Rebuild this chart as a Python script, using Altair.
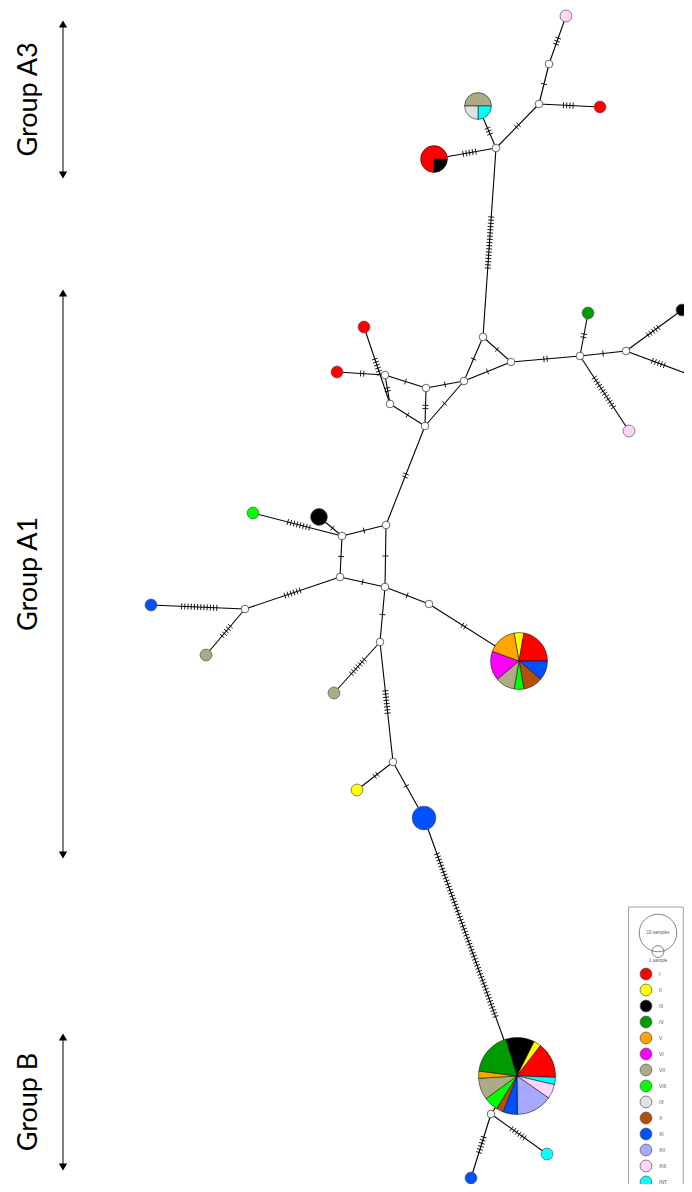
import math
import altair as alt
import pandas as pd

# ---------------- data ----------------
hap_names = ["I", "II", "III", "IV", "V", "VI", "VII", "VIII", "IX", "X", "XI", "XII", "XIII", "INT"]
hap_colors = ["#FF0000", "#FFFF00", "#000000", "#009B00", "#FFA500", "#FF00FF", "#ADAB85",
              "#00FF00", "#E0E0E0", "#B4500A", "#0050FF", "#A8A8FF", "#FFD6F7", "#00FFFF"]

# single-haplotype nodes
node_id = ["A3pink", "A3red", "A1redT", "A1redL", "A1green", "A1black", "A1oliveR", "A1pink",
           "A1lime", "A1black2", "A1blue", "A1olive1", "A1olive2", "A1yellow", "A1blueXI",
           "Bblue", "Bcyan"]
node_x = [566, 600, 364, 337, 588, 682, 693, 629, 253, 319, 151, 206, 334, 357, 424, 471, 547]
node_y = [16, 107, 327, 372, 313, 310, 376, 431, 513, 517, 605, 655, 693, 790, 818, 1178, 1154]
node_hap = ["XIII", "I", "I", "I", "IV", "III", "VII", "XIII", "VIII", "III", "XI", "VII", "VII",
            "II", "XI", "XI", "INT"]
node_n = [1, 1, 1, 1, 1, 1, 1, 1, 1, 2, 1, 1, 1, 1, 4, 1, 1]

# mixed-haplotype nodes (pies)
pie_id = ["A3mix", "A3redblk", "A1pie", "Bpie"]
pie_x = [478, 434, 519, 517]
pie_y = [106, 159, 661, 1076]
pie_haps = [["VII", "INT", "IX"],
            ["III", "I"],
            ["II", "I", "XI", "X", "VIII", "VII", "VI", "V"],
            ["III", "II", "I", "INT", "XIII", "XII", "XI", "X", "VIII", "VII", "V", "IV"]]
pie_counts = [[2, 1, 1],
              [1, 3],
              [1, 4, 2, 2, 1, 2, 3, 3],
              [4, 1, 5, 1, 2, 5, 2, 1, 2, 3, 1, 6]]

# median vectors (unsampled)
mv_id = ["w1", "w2", "w3", "a", "b", "c", "d", "e", "f", "g", "h", "i",
         "j", "k", "l", "m", "n", "o", "p", "q", "wB"]
mv_x = [549, 539, 496, 385, 390, 426, 425, 464, 483, 511, 580, 626,
        342, 386, 340, 385, 429, 245, 380, 393, 491]
mv_y = [64, 104, 148, 375, 404, 388, 426, 381, 337, 362, 356, 351,
        536, 525, 577, 587, 604, 609, 642, 762, 1114]

# edges with number of mutations
edge_a = ["A3pink", "w1", "w2", "w2", "w3", "w3", "w3",
          "A1redT", "a", "A1redL", "a", "b", "c", "c", "d", "e", "e", "f", "g",
          "h", "h", "i", "i", "h", "d",
          "k", "j", "j", "j", "k", "l", "l", "o", "o", "m", "n", "m", "p", "p",
          "q", "q", "A1blueXI", "Bpie", "wB", "wB"]
edge_b = ["w1", "w2", "A3red", "w3", "A3mix", "A3redblk", "f",
          "b", "b", "a", "c", "d", "d", "e", "e", "f", "g", "g", "h",
          "A1green", "i", "A1black", "A1oliveR", "A1pink", "k",
          "j", "A1black2", "A1lime", "l", "m", "m", "o", "A1blue", "A1olive1", "n", "A1pie", "p",
          "A1olive2", "q", "A1yellow", "A1blueXI", "Bpie", "wB", "Bblue", "Bcyan"]
edge_mut = [3, 1, 4, 2, 3, 5, 17,
            6, 2, 2, 1, 1, 2, 1, 1, 1, 1, 1, 2,
            2, 1, 5, 5, 12, 2,
            1, 1, 8, 1, 1, 1, 6, 12, 5, 1, 2, 1,
            7, 8, 2, 1, 55, 0, 6, 6]

# group annotations
group_names = ["Group A3", "Group A1", "Group B"]
group_top = [19, 288, 1032]
group_bottom = [180, 860, 1172]

# ---------------- derived tables ----------------
R1 = 6.7          # radius of a one-sample node
MV_R = 4.3
pos = {}
rad = {}
for i_, x_, y_, n_ in zip(node_id, node_x, node_y, node_n):
    pos[i_] = (x_, y_); rad[i_] = R1 * math.sqrt(n_)
for i_, x_, y_, c_ in zip(pie_id, pie_x, pie_y, pie_counts):
    pos[i_] = (x_, y_); rad[i_] = R1 * math.sqrt(sum(c_))
for i_, x_, y_ in zip(mv_id, mv_x, mv_y):
    pos[i_] = (x_, y_); rad[i_] = MV_R

edges = pd.DataFrame({
    "x": [pos[a][0] for a in edge_a], "y": [pos[a][1] for a in edge_a],
    "x2": [pos[b][0] for b in edge_b], "y2": [pos[b][1] for b in edge_b],
})

GAP, HALF = 3.2, 3.0
tick_rows = []
for a, b, m in zip(edge_a, edge_b, edge_mut):
    (x1, y1), (x2, y2) = pos[a], pos[b]
    L = math.hypot(x2 - x1, y2 - y1)
    ux, uy = (x2 - x1) / L, (y2 - y1) / L
    px, py = -uy, ux
    mid = (rad[a] + L - rad[b]) / 2
    for k in range(m):
        s = mid + (k - (m - 1) / 2) * GAP
        cx, cy = x1 + ux * s, y1 + uy * s
        tick_rows.append({"x": cx - px * HALF, "y": cy - py * HALF,
                          "x2": cx + px * HALF, "y2": cy + py * HALF})
ticks = pd.DataFrame(tick_rows)

nodes = pd.DataFrame({"x": node_x, "y": node_y, "hap": node_hap, "n": node_n})
mvs = pd.DataFrame({"x": mv_x, "y": mv_y})

# ---------------- scales ----------------
xs = alt.Scale(domain=[8, 684], nice=False, zero=False)
ys = alt.Scale(domain=[8, 1184], nice=False, zero=False, reverse=True)
cs = alt.Scale(domain=hap_names, range=hap_colors)
ss = alt.Scale(type="linear", domain=[0, 40], range=[0, 40 * math.pi * R1 * R1], zero=True)
rs = alt.Scale(type="sqrt", domain=[0, 40], range=[0, R1 * math.sqrt(40)], zero=True)


def X(f="x"):
    return alt.X(f"{f}:Q", scale=xs, axis=None)


def Y(f="y"):
    return alt.Y(f"{f}:Q", scale=ys, axis=None)


layers = []
layers.append(alt.Chart(edges).mark_rule(color="black", strokeWidth=1.1).encode(
    x=X(), y=Y(), x2="x2:Q", y2="y2:Q"))
layers.append(alt.Chart(ticks).mark_rule(color="black", strokeWidth=0.9).encode(
    x=X(), y=Y(), x2="x2:Q", y2="y2:Q"))
layers.append(alt.Chart(mvs).mark_circle(size=math.pi * MV_R ** 2, color="white", opacity=1,
                                         stroke="#444444", strokeWidth=0.8).encode(x=X(), y=Y()))
layers.append(alt.Chart(nodes).mark_circle(opacity=1, stroke="#555555", strokeWidth=0.7).encode(
    x=X(), y=Y(),
    color=alt.Color("hap:N", scale=cs, legend=None),
    size=alt.Size("n:Q", scale=ss, legend=None)))

pie_start_deg = [-90, 90, -10, -17]
pie_layers = []
for pid, px_, py_, hp, ct, st in zip(pie_id, pie_x, pie_y, pie_haps, pie_counts, pie_start_deg):
    df = pd.DataFrame({"x": px_, "y": py_, "hap": hp, "n": ct, "k": list(range(len(ct))),
                       "tot": sum(ct)})
    a0 = math.radians(st)
    pie_layers.append(alt.Chart(df).mark_arc(stroke="black", strokeWidth=0.5).encode(
        x=X(), y=Y(),
        theta=alt.Theta("n:Q", stack=True, scale=alt.Scale(range=[a0, a0 + 2 * math.pi])),
        radius=alt.Radius("tot:Q", scale=rs),
        color=alt.Color("hap:N", scale=cs, legend=None),
        order=alt.Order("k:Q")))

# ---------------- legend ----------------
box = pd.DataFrame({"x": [628.5], "x2": [683.3], "y": [907], "y2": [1195]})
legend_box = alt.Chart(box).mark_rect(fill="white", stroke="#8a8a8a", strokeWidth=0.8).encode(
    x=X(), x2="x2:Q", y=Y(), y2="y2:Q")
sample_keys = pd.DataFrame({"x": [658, 658], "y": [933, 951.5], "n": [10, 1]})
legend_samples = alt.Chart(sample_keys).mark_point(shape="circle", filled=False, color="#333333",
                                                   strokeWidth=0.6, opacity=1).encode(
    x=X(), y=Y(), size=alt.Size("n:Q", scale=ss, legend=None))
sample_txt = pd.DataFrame({"x": [658, 658], "y": [933, 961], "t": ["10 samples", "1 sample"]})
legend_sample_text = alt.Chart(sample_txt).mark_text(fontSize=4.5, color="#555555",
                                                     font="Liberation Sans").encode(
    x=X(), y=Y(), text="t:N")
leg = pd.DataFrame({"hap": hap_names, "k": list(range(len(hap_names)))})
leg["y"] = 974 + 16 * leg["k"]
leg["x"] = 646
leg["xt"] = 659
leg["n"] = 1
legend_dots = alt.Chart(leg).mark_circle(opacity=1, stroke="#555555", strokeWidth=0.7).encode(
    x=X(), y=Y(), color=alt.Color("hap:N", scale=cs, legend=None),
    size=alt.Size("n:Q", scale=ss, legend=None))
legend_text = alt.Chart(leg).mark_text(fontSize=5, color="#555555", align="left",
                                       font="Liberation Sans").encode(
    x=X("xt"), y=Y(), text="hap:N")

# ---------------- group annotations ----------------
grp = pd.DataFrame({"name": group_names, "top": group_top, "bottom": group_bottom})
grp["x"] = 63
grp["xt"] = 29
grp["mid"] = (grp["top"] + grp["bottom"]) / 2
grp["top_h"] = grp["top"] + 5
grp["bot_h"] = grp["bottom"] - 5
g_rule = alt.Chart(grp).mark_rule(color="black", strokeWidth=1).encode(
    x=X(), y=Y("top_h"), y2="bot_h:Q")
g_up = alt.Chart(grp).mark_point(shape="triangle-up", filled=True, color="black", size=70,
                                 opacity=1).encode(x=X(), y=Y("top_h"))
g_down = alt.Chart(grp).mark_point(shape="triangle-down", filled=True, color="black", size=70,
                                   opacity=1).encode(x=X(), y=Y("bot_h"))
g_text = alt.Chart(grp).mark_text(angle=270, fontSize=27, font="Lato", color="black",
                                  align="center", baseline="middle").encode(
    x=X("xt"), y=Y("mid"), text="name:N")

chart = alt.layer(
    *layers, *pie_layers,
    legend_box, legend_samples, legend_sample_text, legend_dots, legend_text,
    g_rule, g_up, g_down, g_text
).resolve_scale(theta="independent").properties(
    width=676, height=1176,
    autosize=alt.AutoSizeParams(type="none"),
    padding=0, background="white"
).configure_view(stroke=None)

chart.save("out.html", embed_options={"renderer": "svg", "actions": False})
